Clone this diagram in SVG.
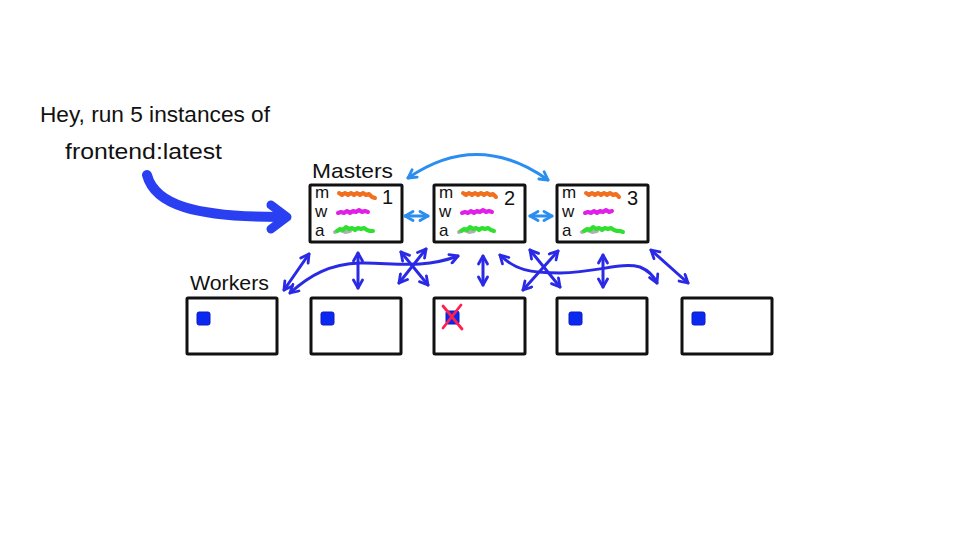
<svg xmlns="http://www.w3.org/2000/svg" width="960" height="540" viewBox="0 0 960 540">
<style>
.t{font-family:"Liberation Sans","DejaVu Sans",sans-serif;fill:#111}
.box{fill:#fff;stroke:#111;stroke-width:3;stroke-linejoin:round}
.sq{fill:#0a28f0;stroke:#0a1cc0;stroke-width:1}
.c{fill:none;stroke:#2a2ae6;stroke-width:3;stroke-linecap:round;marker-start:url(#ah);marker-end:url(#ah)}
.cl{fill:none;stroke:#2a8ef0;stroke-width:3;stroke-linecap:round;marker-start:url(#al);marker-end:url(#al)}
.sc{fill:none;stroke-width:4;stroke-linecap:round;stroke-linejoin:round}
.lt{font-size:17px}
.num{font-size:20px}
</style>
<defs>
<marker id="ah" viewBox="0 0 12 12" refX="10" refY="6" markerWidth="12" markerHeight="12" markerUnits="userSpaceOnUse" orient="auto-start-reverse">
<path d="M2,1.5 L10,6 L2,10.5" fill="none" stroke="#2a2ae6" stroke-width="2.8" stroke-linecap="round" stroke-linejoin="round"/>
</marker>
<marker id="al" viewBox="0 0 12 12" refX="10" refY="6" markerWidth="12" markerHeight="12" markerUnits="userSpaceOnUse" orient="auto-start-reverse">
<path d="M2,1.5 L10,6 L2,10.5" fill="none" stroke="#2a8ef0" stroke-width="2.8" stroke-linecap="round" stroke-linejoin="round"/>
</marker>
</defs>
<rect width="960" height="540" fill="#fff"/>

<g id="request">
<text class="t" x="40" y="122" font-size="22" textLength="230" lengthAdjust="spacingAndGlyphs">Hey, run 5 instances of</text>
<text class="t" x="65" y="159" font-size="22" textLength="157" lengthAdjust="spacingAndGlyphs">frontend:latest</text>
<path d="M147,175 C155,205 195,217 280,217" fill="none" stroke="#2a3ff2" stroke-width="10" stroke-linecap="round"/>
<path d="M271,205 L287,217 L271,229" fill="none" stroke="#2a3ff2" stroke-width="9" stroke-linecap="round" stroke-linejoin="round"/>
</g>

<g id="labels">
<text class="t" x="312" y="178" font-size="21" textLength="81" lengthAdjust="spacingAndGlyphs">Masters</text>
<text class="t" x="190" y="290" font-size="21" textLength="79" lengthAdjust="spacingAndGlyphs">Workers</text>
</g>

<g id="master1">
<rect class="box" x="310" y="185" width="92" height="57" rx="1"/>
<text class="t lt" x="315" y="198">m</text>
<text class="t lt" x="315" y="217">w</text>
<text class="t lt" x="315" y="236">a</text>
<path class="sc" stroke="#f07020" d="M339,193 l3,2 l3,-2 l3,2 l3,-2 l3,2 l3,-2 l3,2 l3,-2 l3,2 l3,-1 l3,3 l3,1"/>
<path class="sc" stroke="#e020e8" d="M338,213 l3,-1 l3,1 l3,-2 l3,2 l3,-2 l3,1 l3,-2 l3,2 l3,-1 l3,1"/>
<path class="sc" stroke="#b0b0b0" stroke-width="5" d="M335,232 l5,-2 l5,2 l5,-1"/>
<path class="sc" stroke="#30e030" d="M337,231 l3,-2 l3,1 l3,-3 l3,2 l3,-1 l3,2 l3,-2 l3,1 l3,-1 l3,2 l3,1 l3,0"/>
<text class="t num" x="382" y="204">1</text>
</g>

<g id="master2">
<rect class="box" x="434" y="185" width="91" height="57" rx="1"/>
<text class="t lt" x="439" y="198">m</text>
<text class="t lt" x="439" y="217">w</text>
<text class="t lt" x="439" y="236">a</text>
<path class="sc" stroke="#f07020" d="M463,193 l3,2 l3,-2 l3,2 l3,-2 l3,2 l3,-2 l3,2 l3,-2 l3,2 l3,-1 l3,3"/>
<path class="sc" stroke="#e020e8" d="M462,213 l3,-1 l3,1 l3,-2 l3,2 l3,-2 l3,1 l3,-2 l3,2 l3,-1 l3,1"/>
<path class="sc" stroke="#b0b0b0" stroke-width="5" d="M459,232 l5,-2 l5,2 l5,-1"/>
<path class="sc" stroke="#30e030" d="M461,231 l3,-2 l3,1 l3,-3 l3,2 l3,-1 l3,2 l3,-2 l3,1 l3,-1 l3,2 l3,1"/>
<text class="t num" x="504" y="205">2</text>
</g>

<g id="master3">
<rect class="box" x="557" y="185" width="91" height="57" rx="1"/>
<text class="t lt" x="562" y="198">m</text>
<text class="t lt" x="562" y="217">w</text>
<text class="t lt" x="562" y="236">a</text>
<path class="sc" stroke="#f07020" d="M586,193 l3,2 l3,-2 l3,2 l3,-2 l3,2 l3,-2 l3,2 l3,-2 l3,2 l3,-1 l3,3"/>
<path class="sc" stroke="#e020e8" d="M585,213 l3,-1 l3,1 l3,-2 l3,2 l3,-2 l3,1 l3,-2 l3,2 l3,-1"/>
<path class="sc" stroke="#b0b0b0" stroke-width="5" d="M582,232 l5,-2 l5,2 l5,-1"/>
<path class="sc" stroke="#30e030" d="M584,231 l3,-2 l3,1 l3,-3 l3,2 l3,-1 l3,2 l3,-2 l3,1 l3,-1 l3,2 l3,1 l3,0 l3,1"/>
<text class="t num" x="627" y="205">3</text>
</g>

<g id="worker1">
<rect class="box" x="187" y="298" width="90" height="56" rx="1"/>
<rect class="sq" x="197" y="312" width="13" height="13" rx="2"/>
</g>
<g id="worker2">
<rect class="box" x="311" y="298" width="90" height="56" rx="1"/>
<rect class="sq" x="321" y="312" width="13" height="13" rx="2"/>
</g>
<g id="worker3">
<rect class="box" x="434" y="298" width="91" height="56" rx="1"/>
<rect class="sq" x="446" y="311" width="13" height="13" rx="2"/>
<path d="M443,306 L462,329 M461,305 L443,328" fill="none" stroke="#ff2050" stroke-width="2.8" stroke-linecap="round"/>
</g>
<g id="worker4">
<rect class="box" x="557" y="298" width="90" height="56" rx="1"/>
<rect class="sq" x="569" y="312" width="13" height="13" rx="2"/>
</g>
<g id="worker5">
<rect class="box" x="682" y="298" width="90" height="56" rx="1"/>
<rect class="sq" x="692" y="312" width="13" height="13" rx="2"/>
</g>

<g id="connectors">
<path class="cl" d="M405,216 L428,216"/>
<path class="cl" d="M530,216 L552,216"/>
<path class="cl" d="M408,178 Q478,130 548,180"/>
<path class="c" d="M284,290 L309,254"/>
<path class="c" d="M290,293 C310,275 330,264 360,263 S420,270 458,256"/>
<path class="c" d="M358,253 L358,288"/>
<path class="c" d="M401,252 L428,285"/>
<path class="c" d="M426,249 L399,283"/>
<path class="c" d="M483,256 L483,285"/>
<path class="c" d="M500,255 C515,270 530,273 560,273 C600,272 620,262 640,267 Q652,272 657,283"/>
<path class="c" d="M530,250 L560,287"/>
<path class="c" d="M558,251 L523,290"/>
<path class="c" d="M603,255 L603,287"/>
<path class="c" d="M651,250 L688,283"/>
</g>
</svg>
